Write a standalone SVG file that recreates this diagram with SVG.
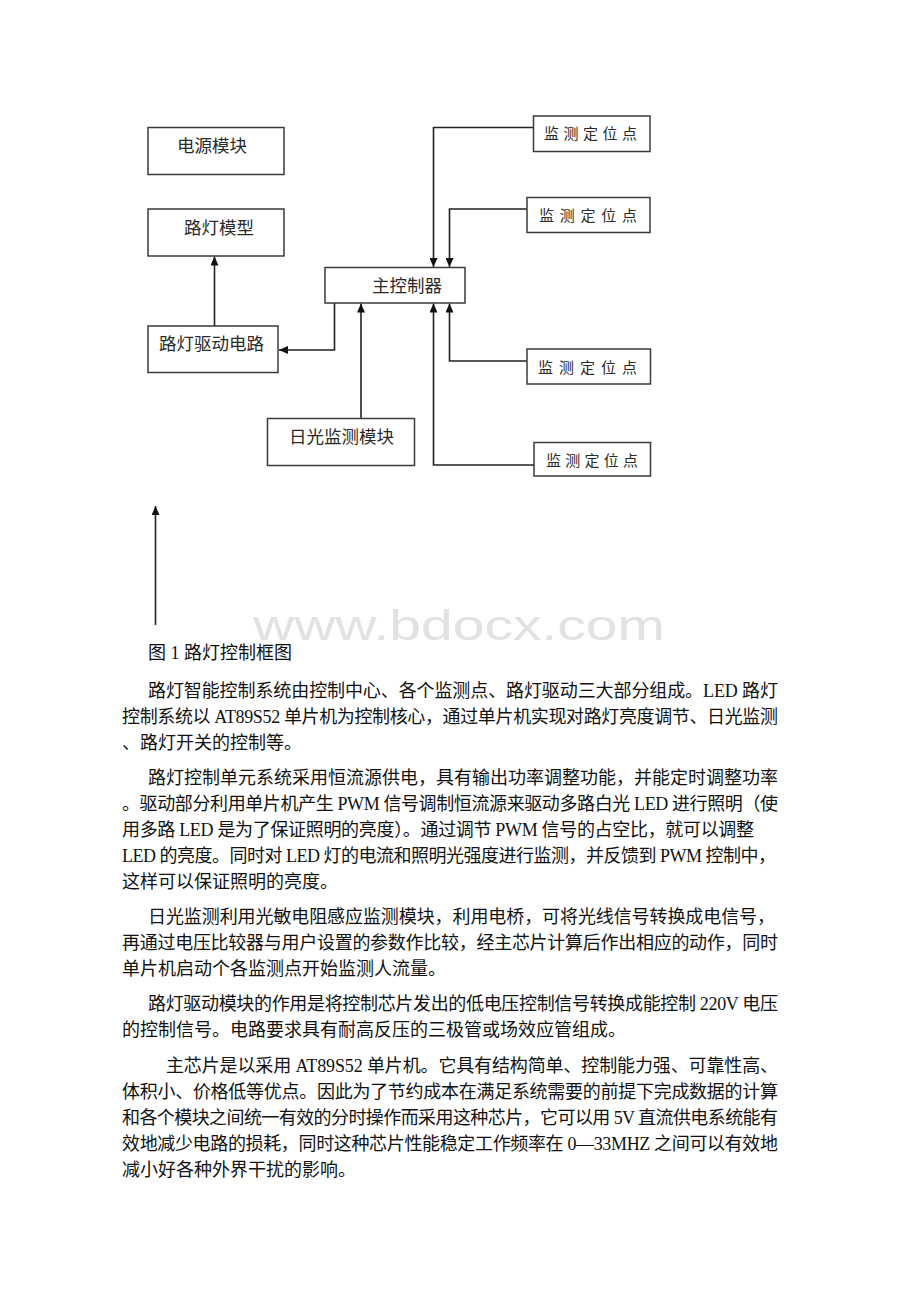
<svg xmlns="http://www.w3.org/2000/svg" width="920" height="1302" viewBox="0 0 920 1302">
<style>
.box{fill:#fff;stroke:#3a3a3a;stroke-width:1.5}
.lbl{font-family:"Noto Sans CJK SC",sans-serif;font-size:17.5px;fill:#2a2a2a}
.mon{font-family:"Noto Sans CJK SC",sans-serif;font-size:15px;fill:#2a2a2a}
.con{fill:none;stroke:#222;stroke-width:1.6}
.body{font-family:"Liberation Serif","Noto Sans CJK SC",serif;font-size:18px;fill:#111}
.wm{font-family:"Liberation Sans",Arial,sans-serif;font-size:42px;fill:#e2e2e2}
</style>
<defs>
<marker id="ah" markerWidth="9" markerHeight="8" refX="9" refY="4" orient="auto" markerUnits="userSpaceOnUse">
<path d="M0,0 L9,4 L0,8 z" fill="#111"/>
</marker>
</defs>
<rect width="920" height="1302" fill="#fff"/>
<text class="wm" x="253" y="640" textLength="412" lengthAdjust="spacingAndGlyphs">www.bdocx.com</text>

<g id="connectors">
<path class="con" d="M533.5,127.5 H433.5 V267" marker-end="url(#ah)"/>
<path class="con" d="M527,209 H449.5 V267" marker-end="url(#ah)"/>
<path class="con" d="M527,361 H449.5 V303.5" marker-end="url(#ah)"/>
<path class="con" d="M534,465 H433.5 V303.5" marker-end="url(#ah)"/>
<path class="con" d="M361,418.5 V303.5" marker-end="url(#ah)"/>
<path class="con" d="M334.5,303 V350 H279" marker-end="url(#ah)"/>
<path class="con" d="M214.5,326 V256.5" marker-end="url(#ah)"/>
<path class="con" d="M155.5,625 V506" marker-end="url(#ah)"/>
</g>

<g id="power">
<rect class="box" x="148" y="127.5" width="136" height="47"/>
<text class="lbl" x="177" y="151.5">电源模块</text>
</g>
<g id="lamp-model">
<rect class="box" x="148" y="209" width="136" height="47"/>
<text class="lbl" x="184" y="233.5">路灯模型</text>
</g>
<g id="lamp-drive">
<rect class="box" x="148" y="326" width="130" height="46.5"/>
<text class="lbl" x="159" y="350">路灯驱动电路</text>
</g>
<g id="main-controller">
<rect class="box" x="325" y="267.5" width="140" height="35.5"/>
<text class="lbl" x="372" y="291.5">主控制器</text>
</g>
<g id="daylight">
<rect class="box" x="267.5" y="418.5" width="147" height="47"/>
<text class="lbl" x="289" y="442.5">日光监测模块</text>
</g>
<g id="monitor1">
<rect class="box" x="533.5" y="116" width="116.5" height="35.5"/>
<text class="mon" x="544" y="138.5" letter-spacing="4.5">监测定位点</text>
</g>
<g id="monitor2">
<rect class="box" x="527" y="197.5" width="123" height="35"/>
<text class="mon" x="539" y="220.5" letter-spacing="5.75">监测定位点</text>
</g>
<g id="monitor3">
<rect class="box" x="527" y="349" width="123.5" height="35"/>
<text class="mon" x="538" y="373" letter-spacing="6">监测定位点</text>
</g>
<g id="monitor4">
<rect class="box" x="534" y="442.5" width="116.5" height="33.5"/>
<text class="mon" x="546" y="465.5" letter-spacing="4.25">监测定位点</text>
</g>

<g id="caption">
<text class="body" x="148" y="659">图 1 路灯控制框图</text>
</g>

<g id="text">
<text class="body" x="148" y="697" textLength="630" lengthAdjust="spacing">路灯智能控制系统由控制中心、各个监测点、路灯驱动三大部分组成。LED 路灯</text>
<text class="body" x="122" y="723" textLength="656" lengthAdjust="spacing">控制系统以 AT89S52 单片机为控制核心，通过单片机实现对路灯亮度调节、日光监测</text>
<text class="body" x="122" y="749">、路灯开关的控制等。</text>

<text class="body" x="148" y="784" textLength="630" lengthAdjust="spacing">路灯控制单元系统采用恒流源供电，具有输出功率调整功能，并能定时调整功率</text>
<text class="body" x="122" y="810" textLength="656" lengthAdjust="spacing">。驱动部分利用单片机产生 PWM 信号调制恒流源来驱动多路白光 LED 进行照明（使</text>
<text class="body" x="122" y="836" textLength="632" lengthAdjust="spacing">用多路 LED 是为了保证照明的亮度）。通过调节 PWM 信号的占空比，就可以调整</text>
<text class="body" x="122" y="862" textLength="654" lengthAdjust="spacing">LED 的亮度。同时对 LED 灯的电流和照明光强度进行监测，并反馈到 PWM 控制中，</text>
<text class="body" x="122" y="888">这样可以保证照明的亮度。</text>

<text class="body" x="148" y="923" textLength="627" lengthAdjust="spacing">日光监测利用光敏电阻感应监测模块，利用电桥，可将光线信号转换成电信号，</text>
<text class="body" x="122" y="949" textLength="656" lengthAdjust="spacing">再通过电压比较器与用户设置的参数作比较，经主芯片计算后作出相应的动作，同时</text>
<text class="body" x="122" y="975">单片机启动个各监测点开始监测人流量。</text>

<text class="body" x="148" y="1010" textLength="630" lengthAdjust="spacing">路灯驱动模块的作用是将控制芯片发出的低电压控制信号转换成能控制 220V 电压</text>
<text class="body" x="122" y="1036">的控制信号。电路要求具有耐高反压的三极管或场效应管组成。</text>

<text class="body" x="166" y="1072" textLength="612" lengthAdjust="spacing">主芯片是以采用 AT89S52 单片机。它具有结构简单、控制能力强、可靠性高、</text>
<text class="body" x="122" y="1098" textLength="656" lengthAdjust="spacing">体积小、价格低等优点。因此为了节约成本在满足系统需要的前提下完成数据的计算</text>
<text class="body" x="122" y="1124" textLength="656" lengthAdjust="spacing">和各个模块之间统一有效的分时操作而采用这种芯片，它可以用 5V 直流供电系统能有</text>
<text class="body" x="122" y="1150" textLength="656" lengthAdjust="spacing">效地减少电路的损耗，同时这种芯片性能稳定工作频率在 0—33MHZ 之间可以有效地</text>
<text class="body" x="122" y="1176">减小好各种外界干扰的影响。</text>
</g>
</svg>
